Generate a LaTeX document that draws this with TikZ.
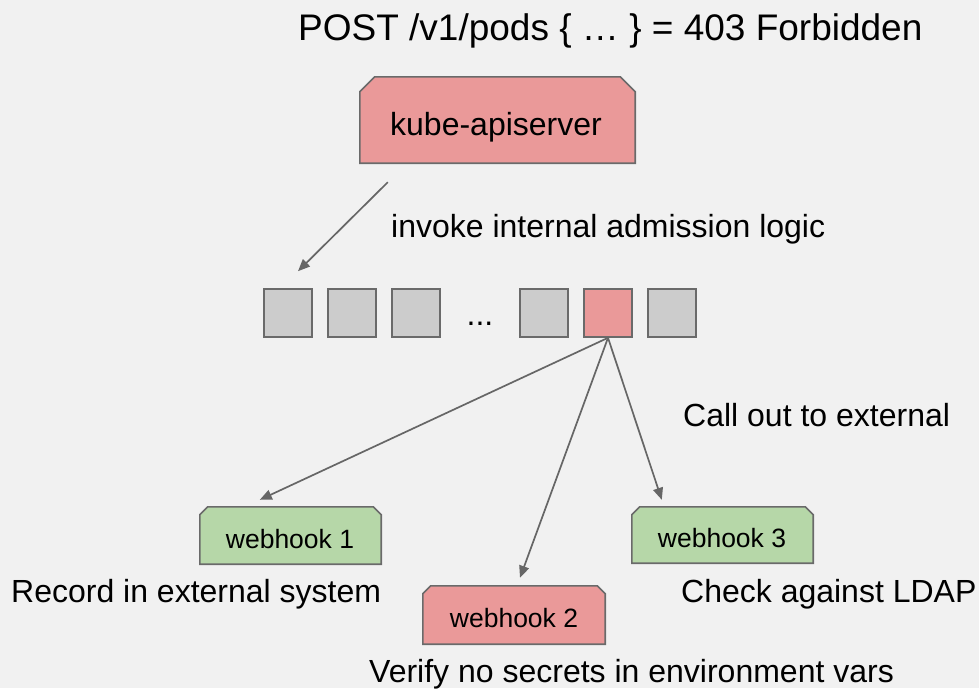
\documentclass[tikz,border=0pt]{standalone}
\usepackage{fontspec}
\setmainfont{Liberation Sans}
\usetikzlibrary{arrows.meta}
\pgfdeclarelayer{shapes}
\pgfsetlayers{shapes,main}

\definecolor{pagebg}{HTML}{F1F1F1}
\definecolor{redfill}{HTML}{EA9999}
\definecolor{greenfill}{HTML}{B6D7A8}
\definecolor{greyfill}{HTML}{CCCCCC}
\definecolor{edge}{HTML}{6A6A6A}
\definecolor{wire}{HTML}{666666}

\tikzset{
  area/.style={rectangle, inner sep=0pt, minimum width=#1},
  redsnip/.style={fill=redfill, draw=edge, line width=1.6pt, line join=miter},
  greensnip/.style={fill=greenfill, draw=edge, line width=1.6pt, line join=miter},
  stage/.style={rectangle, draw=edge, line width=1.6pt, minimum size=48pt, inner sep=0pt, fill=greyfill},
  hotstage/.style={stage, fill=redfill},
  arr/.style={draw=wire, line width=1.7pt, -{Triangle[length=12pt,width=10pt]}},
  big/.style={font=\fontsize{37}{44}\selectfont, inner sep=0pt},
  lbl/.style={font=\fontsize{32}{38}\selectfont, inner sep=0pt},
  hook/.style={font=\fontsize{26.5}{31}\selectfont, inner sep=0pt},
}

% box with its two top corners snipped off, drawn behind node #1
\newcommand\snipped[3]{%
  \begin{pgfonlayer}{shapes}
    \path[#2] (#1.south west) -- ([yshift=-#3]#1.north west) -- ([xshift=#3]#1.north west)
      -- ([xshift=-#3]#1.north east) -- ([yshift=-#3]#1.north east) -- (#1.south east) -- cycle;
  \end{pgfonlayer}}

\begin{document}
\begin{tikzpicture}[x=1pt,y=-1pt]
\begin{pgfonlayer}{shapes}
  \fill[pagebg] (0,0) rectangle (979,688);
\end{pgfonlayer}
\useasboundingbox (0,0) rectangle (979,688);

% request line
\node[big, anchor=base west] (req) at (298,40) {POST /v1/pods \{ … \} = 403 Forbidden};

% api server
\node[area=275pt, minimum height=86pt] (api) at (497.5,120) {};
\snipped{api}{redsnip}{15pt}
\node[lbl, anchor=base] (apitext) at (496,135) {kube-apiserver};

\node[lbl, anchor=base west] (invoke) at (391,237) {invoke internal admission logic};

% admission chain
\node[stage] (s1) at (288,313) {};
\node[stage] (s2) at (352,313) {};
\node[stage] (s3) at (416,313) {};
\node[lbl, anchor=base] (dots) at (480,325) {...};
\node[stage] (s4) at (544,313) {};
\node[hotstage] (s5) at (608,313) {};
\node[stage] (s6) at (672,313) {};

\draw[arr] ([xshift=28pt,yshift=-19pt]api.south west) -- ([xshift=10pt,yshift=17pt]s1.north);

\node[lbl, anchor=base west] (callout) at (683,426) {Call out to external};

% webhooks
\node[area=181pt, minimum height=57pt] (w1) at (290.5,535.5) {};
\snipped{w1}{greensnip}{8pt}
\node[hook, anchor=base] (w1text) at (290,548) {webhook 1};

\node[area=182pt, minimum height=58pt] (w2) at (514,615) {};
\snipped{w2}{redsnip}{8pt}
\node[hook, anchor=base] (w2text) at (514,627) {webhook 2};

\node[area=181pt, minimum height=56pt] (w3) at (722.5,535) {};
\snipped{w3}{greensnip}{8pt}
\node[hook, anchor=base] (w3text) at (722,547) {webhook 3};

\draw[arr] (s5.south) -- ([xshift=60pt,yshift=7pt]w1.north west);
\draw[arr] (s5.south) -- ([xshift=6pt,yshift=8pt]w2.north);
\draw[arr] (s5.south) -- ([xshift=30pt,yshift=7pt]w3.north west);

% webhook descriptions
\node[lbl, anchor=base west] (d1) at (11,602) {Record in external system};
\node[lbl, anchor=base west] (d3) at (681,602) {Check against LDAP};
\node[lbl, anchor=base west] (d2) at (369,682) {Verify no secrets in environment vars};
\end{tikzpicture}
\end{document}
